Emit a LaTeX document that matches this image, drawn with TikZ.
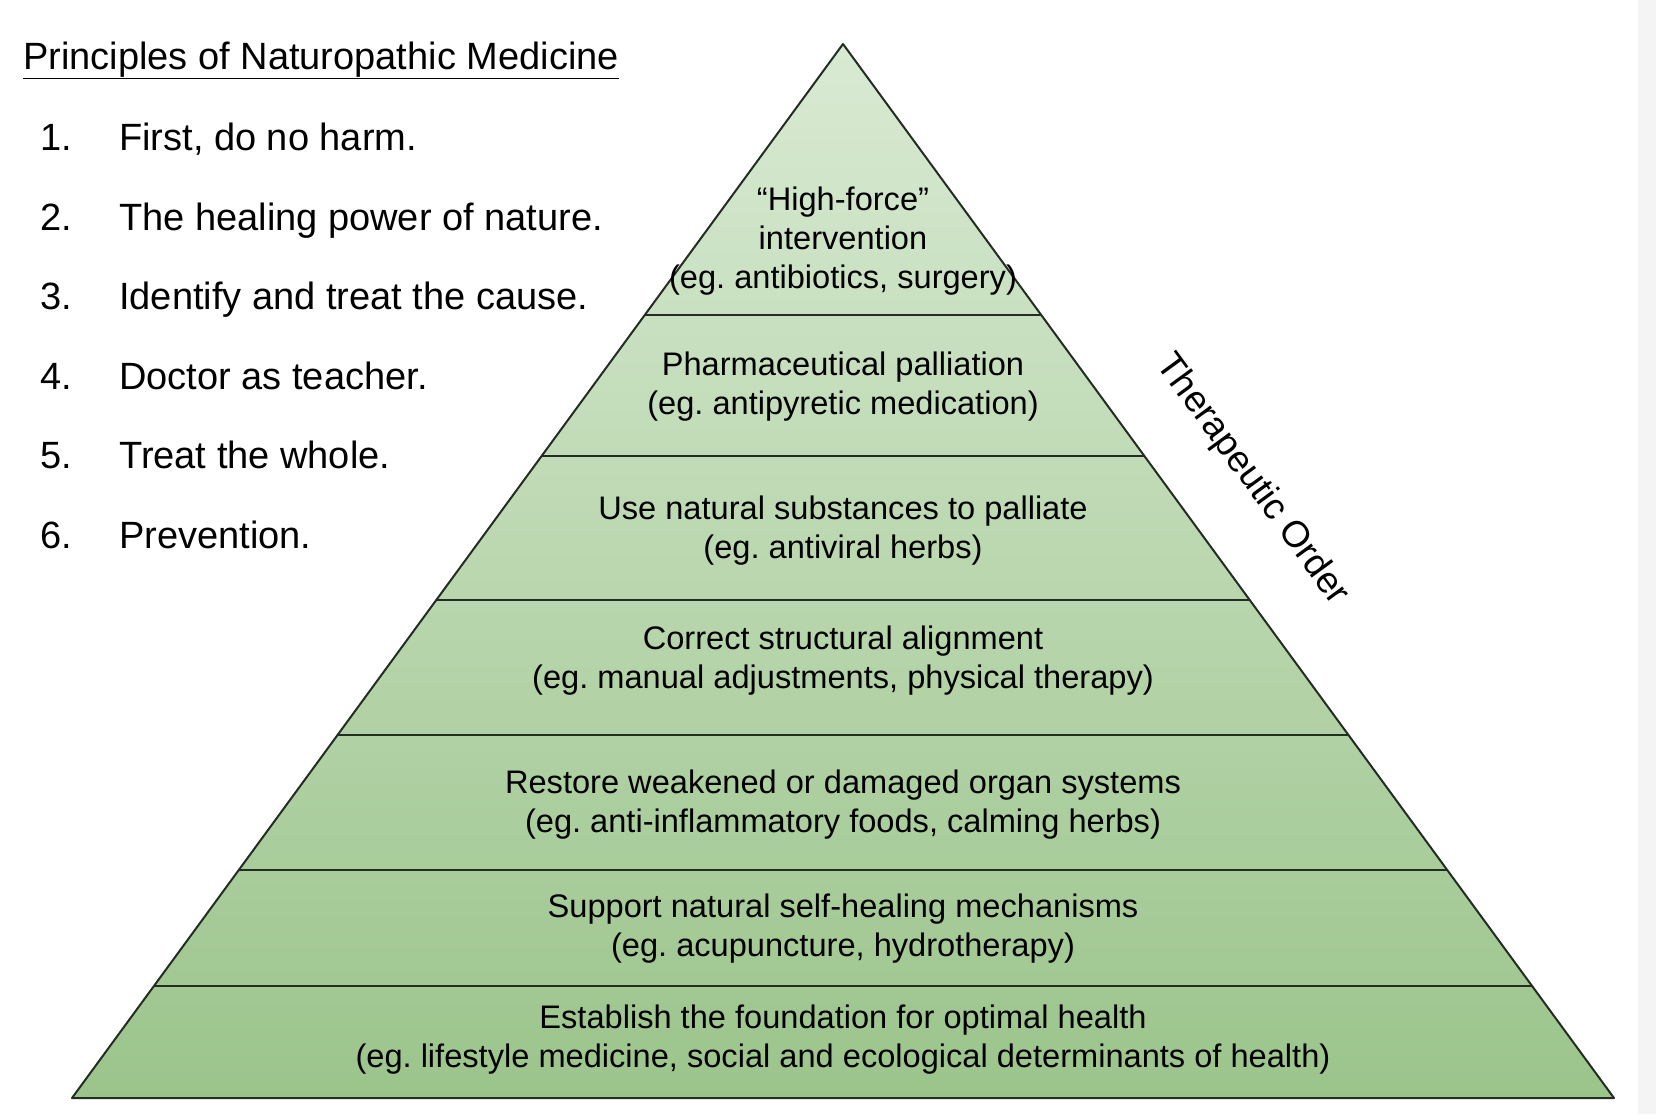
\documentclass[tikz,border=0pt]{standalone}
\usepackage{fontspec}
\setmainfont{Liberation Sans}
\usepackage{tikz}
\definecolor{pyrTop}{RGB}{217,234,211}
\definecolor{pyrBot}{RGB}{155,196,139}
\definecolor{edgeCol}{RGB}{35,45,35}
\definecolor{stripCol}{RGB}{244,244,244}
\newcommand{\listfont}{\fontsize{38}{46}\selectfont}
\newcommand{\layerfont}{\fontsize{32.6}{39}\selectfont}
\frenchspacing

\begin{document}
\begin{tikzpicture}[x=1pt, y=-1pt,
    layertext/.style={align=center, font=\layerfont, inner sep=0pt},
    principle/.style={anchor=base west, font=\listfont, inner sep=0pt}]
  \useasboundingbox (0,0) rectangle (1656,1114);
    % grey strip at the right border
  \fill[stripCol] (1638,0) rectangle (1656,1114);

    % pyramid
  \coordinate (apex) at (843,44);
  \coordinate (baseL) at (72,1098);
  \coordinate (baseR) at (1614,1098);
  \shade[top color=pyrTop, bottom color=pyrBot] (apex) -- (baseR) -- (baseL) -- cycle;
  \begin{scope}
    \clip (apex) -- (baseR) -- (baseL) -- cycle;
    \foreach \y in {315,456,600,735,870,986}
      \draw[edgeCol, line width=2.4pt] (0,\y) -- (1656,\y);
  \end{scope}
  \draw[edgeCol, line width=2pt, line join=round] (apex) -- (baseR) -- (baseL) -- cycle;

    % layer texts
  \node[layertext] (layerA) at (843,241) {“High-force”\\intervention\\(eg. antibiotics, surgery)};
  \node[layertext] (layerB) at (843,387) {Pharmaceutical palliation\\(eg. antipyretic medication)};
  \node[layertext] (layerC) at (843,531) {Use natural substances to palliate\\(eg. antiviral herbs)};
  \node[layertext] (layerD) at (843,661) {Correct structural alignment\\(eg. manual adjustments, physical therapy)};
  \node[layertext] (layerE) at (843,805) {Restore weakened or damaged organ systems\\(eg. anti-inflammatory foods, calming herbs)};
  \node[layertext] (layerF) at (843,929) {Support natural self-healing mechanisms\\(eg. acupuncture, hydrotherapy)};
  \node[layertext] (layerG) at (843,1040) {Establish the foundation for optimal health\\(eg. lifestyle medicine, social and ecological determinants of health)};

    % side label
  \node[font=\fontsize{37}{44}\selectfont, rotate=-53.8, inner sep=0pt] (order) at (1252,480) {Therapeutic Order};

    % principles
  \node[principle] (title) at (23,69) {\underline{Principles of Naturopathic Medicine}};
  \node[principle] (num1) at (40,150) {1.};
  \node[principle] (item1) at (119,150) {First, do no harm.};
  \node[principle] (num2) at (40,230) {2.};
  \node[principle] (item2) at (119,230) {The healing power of nature.};
  \node[principle] (num3) at (40,309) {3.};
  \node[principle] (item3) at (119,309) {Identify and treat the cause.};
  \node[principle] (num4) at (40,389) {4.};
  \node[principle] (item4) at (119,389) {Doctor as teacher.};
  \node[principle] (num5) at (40,468) {5.};
  \node[principle] (item5) at (119,468) {Treat the whole.};
  \node[principle] (num6) at (40,548) {6.};
  \node[principle] (item6) at (119,548) {Prevention.};
\end{tikzpicture}
\end{document}
